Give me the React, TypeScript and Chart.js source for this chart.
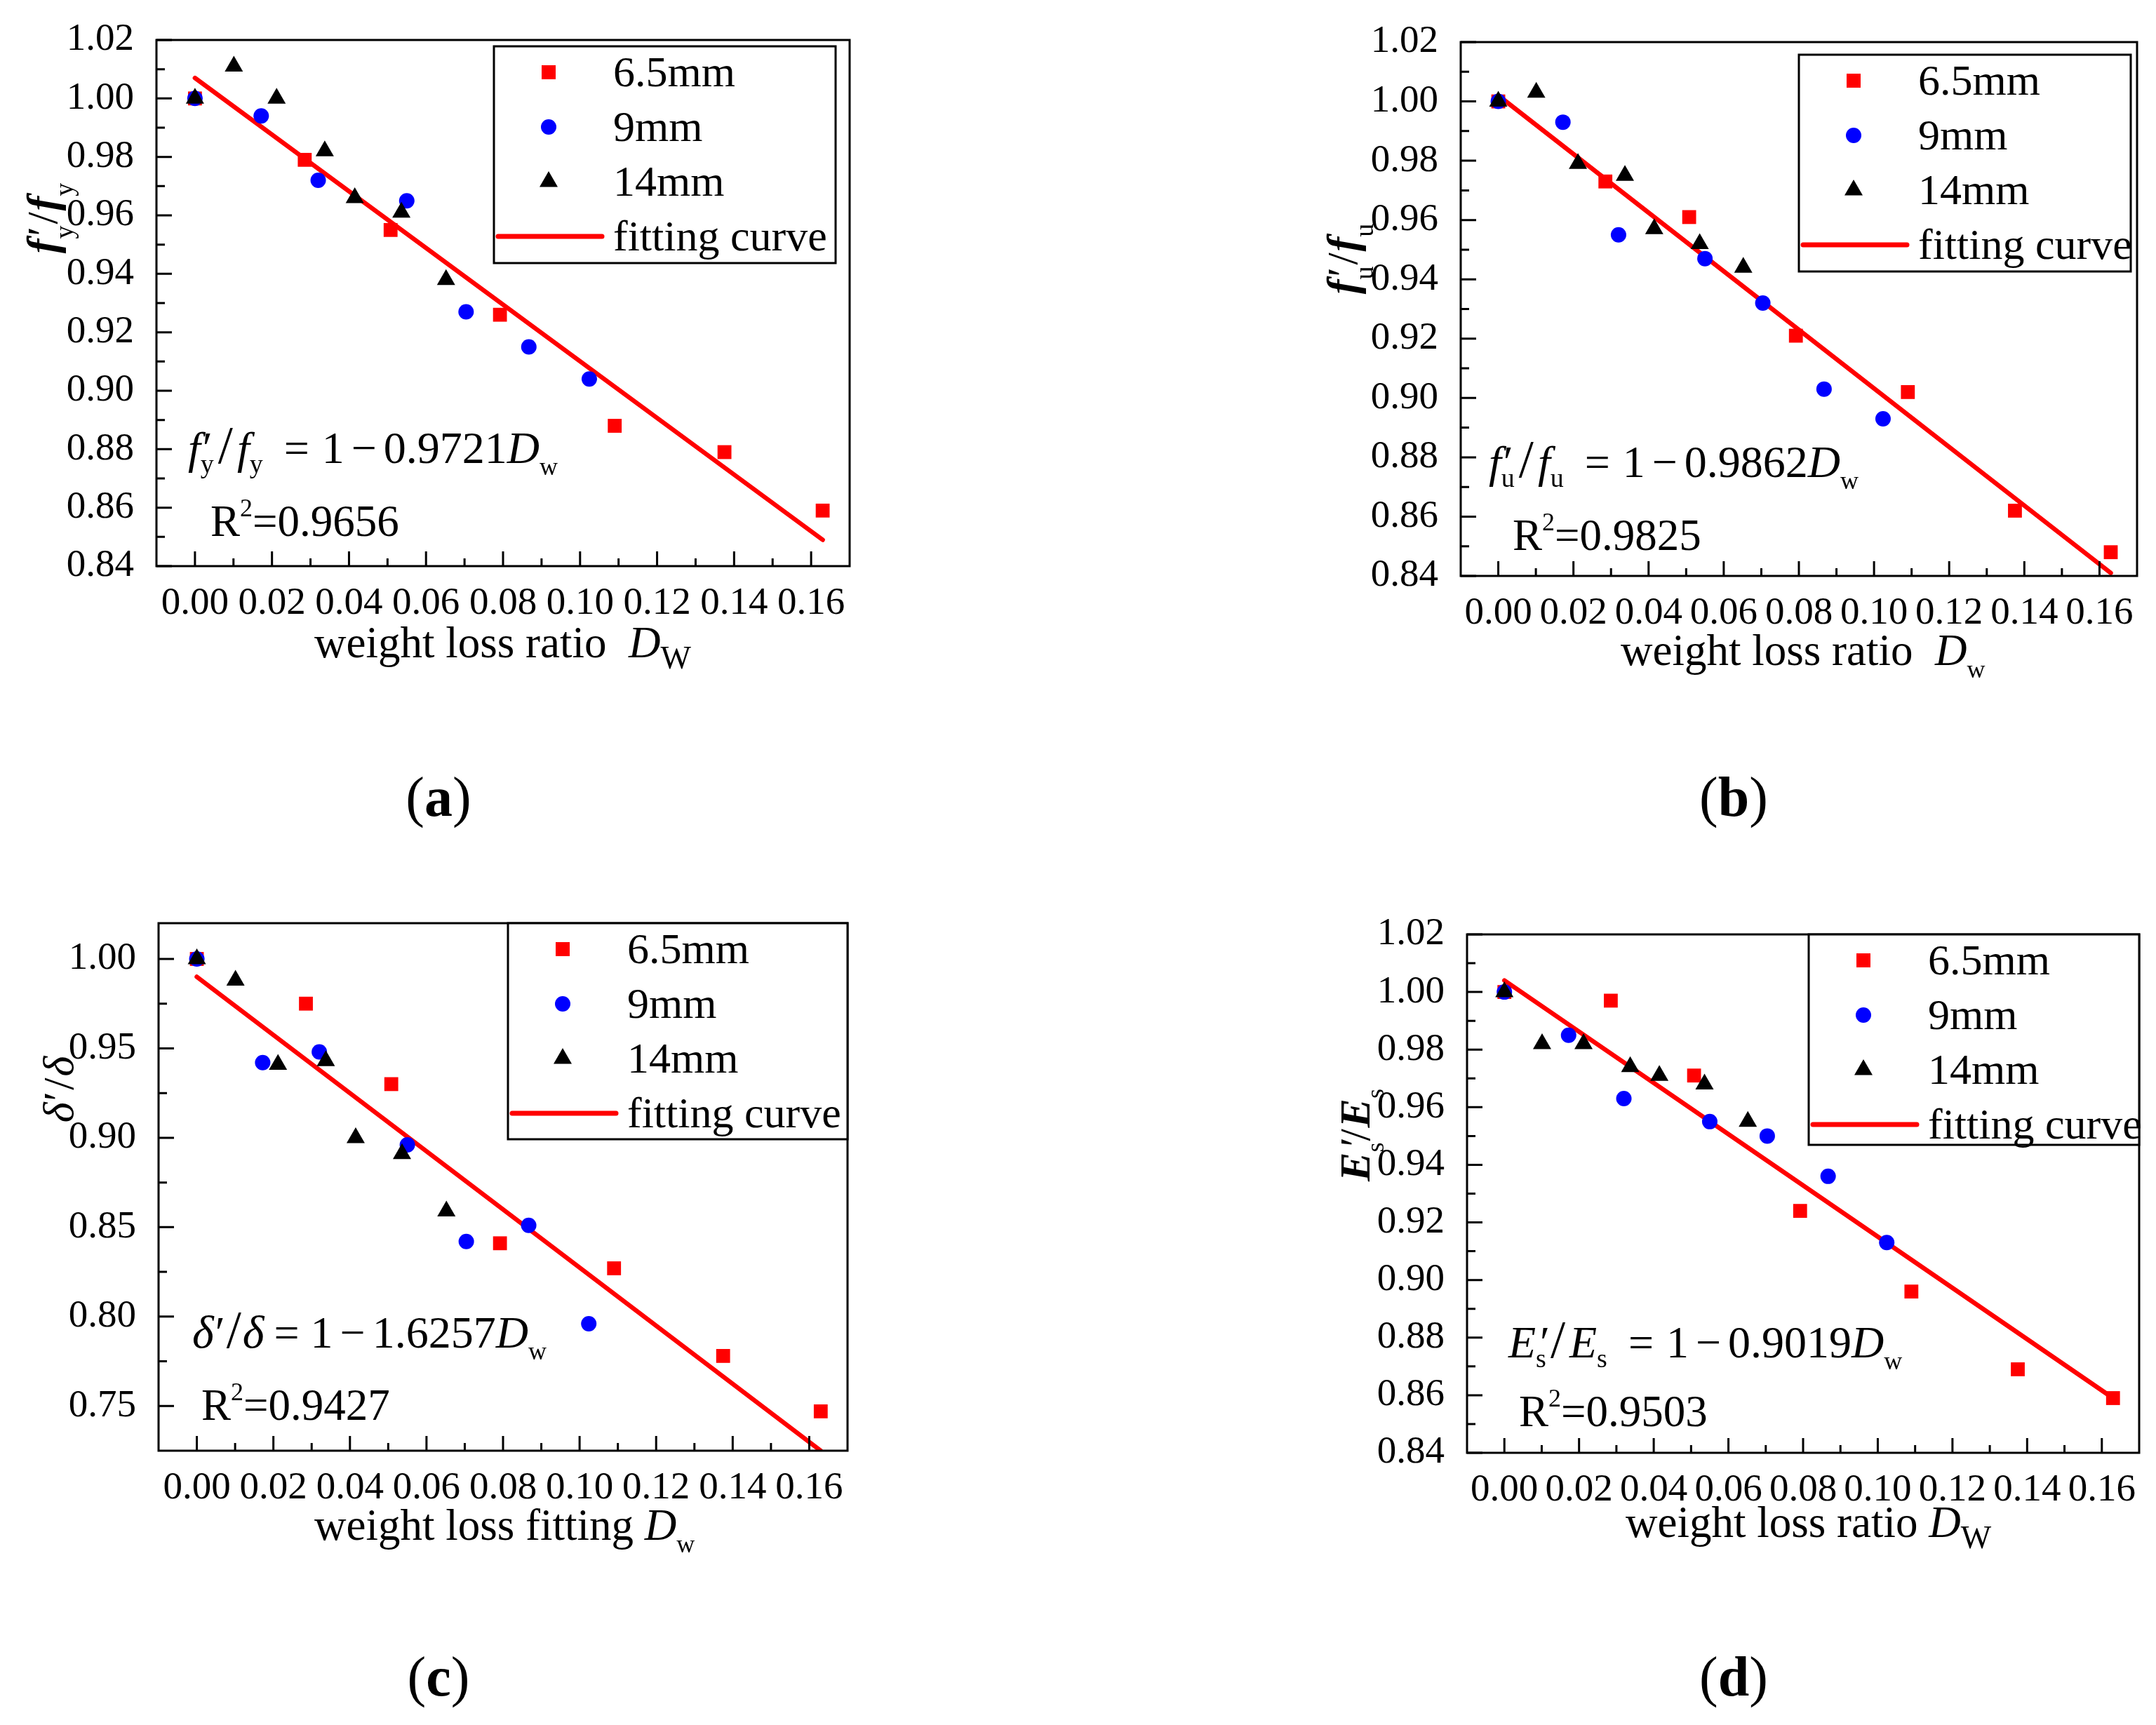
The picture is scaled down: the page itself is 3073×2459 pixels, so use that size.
import React, { useEffect, useRef } from "react";
import { Chart, registerables } from "chart.js";

Chart.register(...registerables);

const FONT = "'Liberation Serif', 'Times New Roman', serif";
const RED = "#ff0000";
const BLUE = "#0000ff";
const BLACK = "#000000";

// weight loss ratio D_w of the specimens, per bar diameter
const lossX65 = [0, 0.0285, 0.0508, 0.0792, 0.109, 0.1375, 0.163];
const lossX9 = [0, 0.0172, 0.032, 0.055, 0.0704, 0.0867, 0.1024];
const lossX14 = [0, 0.0101, 0.0212, 0.0337, 0.0415, 0.0536, 0.0652];
const fitX = [0, 0.163];

// (a) yield strength ratio f'y/fy
const yieldY65 = [1.0, 0.979, 0.955, 0.926, 0.888, 0.879, 0.859];
const yieldY9 = [1.0, 0.994, 0.972, 0.965, 0.927, 0.915, 0.904];
const yieldY14 = [1.0, 1.011, 1.0, 0.982, 0.966, 0.961, 0.938];
const yieldFit = [1.007, 0.849];

// (b) ultimate strength ratio f'u/fu
const ultY65 = [1.0, 0.973, 0.961, 0.921, 0.902, 0.862, 0.848];
const ultY9 = [1.0, 0.993, 0.955, 0.947, 0.932, 0.903, 0.893];
const ultY14 = [1.0, 1.003, 0.979, 0.975, 0.957, 0.952, 0.944];
const ultFit = [1.002, 0.841];

// (c) elongation ratio delta'/delta
const elongY65 = [1.0, 0.975, 0.93, 0.841, 0.827, 0.778, 0.747];
const elongY9 = [1.0, 0.942, 0.948, 0.896, 0.842, 0.851, 0.796];
const elongY14 = [1.0, 0.988, 0.941, 0.943, 0.9, 0.891, 0.859];
const elongFit = [0.99, 0.725];

// (d) elastic modulus ratio E's/Es
const modY65 = [1.0, 0.997, 0.971, 0.924, 0.896, 0.869, 0.859];
const modY9 = [1.0, 0.985, 0.963, 0.955, 0.95, 0.936, 0.913];
const modY14 = [1.0, 0.982, 0.982, 0.974, 0.971, 0.968, 0.955];
const modFit = [1.004, 0.859];

// tick labels
const xTicks = [0, 0.02, 0.04, 0.06, 0.08, 0.1, 0.12, 0.14, 0.16];
const xMinor = [0.01, 0.03, 0.05, 0.07, 0.09, 0.11, 0.13, 0.15];
const ratioTicks = [0.84, 0.86, 0.88, 0.9, 0.92, 0.94, 0.96, 0.98, 1.0, 1.02];
const ratioMinor = [0.85, 0.87, 0.89, 0.91, 0.93, 0.95, 0.97, 0.99, 1.01];
const elongTicks = [0.75, 0.8, 0.85, 0.9, 0.95, 1.0];
const elongMinor = [0.775, 0.825, 0.875, 0.925, 0.975];

const legendNames = ["6.5mm", "9mm", "14mm", "fitting curve"];

type Run = { t: string; size: number; style?: string; dx?: number; dy?: number; noAdv?: boolean };

const EQ = 64;
const rm = (t: string, size = EQ, dx = 0): Run => ({ t, size, dx });
const it = (t: string, size = EQ, dx = 0): Run => ({ t, size, style: "italic", dx });
const bi = (t: string, size = 62, dx = 0): Run => ({ t, size, style: "bold italic", dx });
const sub = (t: string, size = 38, dy = 14): Run => ({ t, size, dy });
const prime = (size = EQ, dx = 3): Run => ({ t: "\u2032", size, dx, noAdv: true });

// right-hand side of each fitted equation: " = 1 - k D_w"
const rhs = (k: string): Run[] => [rm("=", EQ, 30), rm("1", EQ, 18), rm("\u2212", EQ, 10), rm(k, EQ, 10), it("D"), sub("w", 36, 17)];

function setFont(ctx: CanvasRenderingContext2D, r: Run) {
  ctx.font = `${r.style ? r.style + " " : ""}${r.size}px ${FONT}`;
}

function runsWidth(ctx: CanvasRenderingContext2D, runs: Run[]) {
  let w = 0;
  for (const r of runs) {
    setFont(ctx, r);
    if (!r.noAdv) w += ctx.measureText(r.t).width + (r.dx || 0);
  }
  return w;
}

function drawRuns(ctx: CanvasRenderingContext2D, runs: Run[], x: number, y: number) {
  let cx = x;
  for (const r of runs) {
    setFont(ctx, r);
    ctx.fillText(r.t, cx + (r.dx || 0), y + (r.dy || 0));
    if (!r.noAdv) cx += ctx.measureText(r.t).width + (r.dx || 0);
  }
}

interface PanelDef {
  box: number[]; // canvas left, top, width, height (page px)
  area: number[]; // plot left, top, right, bottom (page px)
  yMin: number;
  yMax: number;
  yTicks: number[];
  yMinor: number[];
  y65: number[];
  y9: number[];
  y14: number[];
  fit: number[];
  legend: number[]; // left, top, right, bottom
  eq: Run[];
  eqAt: number[];
  r2: string;
  r2At: number[];
  xTitle: Run[];
  xTitleAt: number[];
  yTitle: Run[];
  yTitleAt: number[];
  label: string;
  labelAt: number[];
}

const panels: PanelDef[] = [
  {
    box: [0, 0, 1536, 1229],
    area: [223, 45, 1211, 807],
    yMin: 0.84,
    yMax: 1.02,
    yTicks: ratioTicks,
    yMinor: ratioMinor,
    y65: yieldY65,
    y9: yieldY9,
    y14: yieldY14,
    fit: yieldFit,
    legend: [704, 66, 1191, 375],
    eq: [it("f"), prime(), sub("y"), rm("/", 76, 6), it("f", EQ, 6), sub("y"), ...rhs("0.9721")],
    eqAt: [268, 660],
    r2: "0.9656",
    r2At: [300, 764],
    xTitle: [rm("weight loss ratio  ", 63), it("D", 63), sub("W", 46, 16)],
    xTitleAt: [448, 937],
    yTitle: [bi("f"), prime(62, 4), sub("y", 38, 23), rm("/", 62, 2), bi("f", 62, 2), sub("y", 38, 23)],
    yTitleAt: [81, 311],
    label: "a",
    labelAt: [625, 1163],
  },
  {
    box: [1536, 0, 1537, 1229],
    area: [2082, 60, 3046, 821],
    yMin: 0.84,
    yMax: 1.02,
    yTicks: ratioTicks,
    yMinor: ratioMinor,
    y65: ultY65,
    y9: ultY9,
    y14: ultY14,
    fit: ultFit,
    legend: [2564, 78, 3037, 387],
    eq: [it("f"), prime(), sub("u"), rm("/", 76, 6), it("f", EQ, 6), sub("u"), ...rhs("0.9862")],
    eqAt: [2122, 680],
    r2: "0.9825",
    r2At: [2156, 784],
    xTitle: [rm("weight loss ratio  ", 63), it("D", 63), sub("w", 36, 18)],
    xTitleAt: [2310, 948],
    yTitle: [bi("f"), prime(62, 4), sub("u", 38, 23), rm("/", 62, 2), bi("f", 62, 2), sub("u", 38, 23)],
    yTitleAt: [1934, 369],
    label: "b",
    labelAt: [2471, 1163],
  },
  {
    box: [0, 1229, 1536, 1230],
    area: [226, 1316, 1208, 2068],
    yMin: 0.725,
    yMax: 1.02,
    yTicks: elongTicks,
    yMinor: elongMinor,
    y65: elongY65,
    y9: elongY9,
    y14: elongY14,
    fit: elongFit,
    legend: [724, 1316, 1208, 1624],
    eq: [it("\u03b4", 66), rm("\u2032", EQ, 2), rm("/", 76, 2), it("\u03b4", 66, 2), rm("=", EQ, 14), rm("1", EQ, 16), rm("\u2212", EQ, 10), rm("1.6257", EQ, 10), it("D"), sub("w", 36, 17)],
    eqAt: [274, 1921],
    r2: "0.9427",
    r2At: [287, 2024],
    xTitle: [rm("weight loss fitting ", 63), it("D", 63), sub("w", 36, 18)],
    xTitleAt: [448, 2195],
    yTitle: [it("\u03b4", 62), rm("\u2032", 62, 2), rm("/", 62, 2), it("\u03b4", 62, 2)],
    yTitleAt: [104, 1553],
    label: "c",
    labelAt: [625, 2417],
  },
  {
    box: [1536, 1229, 1537, 1230],
    area: [2091, 1332, 3049, 2071],
    yMin: 0.84,
    yMax: 1.02,
    yTicks: ratioTicks,
    yMinor: ratioMinor,
    y65: modY65,
    y9: modY9,
    y14: modY14,
    fit: modFit,
    legend: [2578, 1332, 3049, 1632],
    eq: [it("E"), prime(EQ, 6), sub("s"), rm("/", 76, 6), it("E", EQ, 6), sub("s"), ...rhs("0.9019")],
    eqAt: [2150, 1935],
    r2: "0.9503",
    r2At: [2165, 2033],
    xTitle: [rm("weight loss ratio ", 63), it("D", 63), sub("W", 46, 16)],
    xTitleAt: [2317, 2191],
    yTitle: [bi("E"), prime(62, 8), sub("s", 36, 20), rm("/", 62, 2), bi("E", 62, 2), sub("s", 36, 20)],
    yTitleAt: [1952, 1618],
    label: "d",
    labelAt: [2471, 2417],
  },
];

function drawLegend(ctx: CanvasRenderingContext2D, l: number, t: number, r: number, b: number) {
  ctx.save();
  ctx.fillStyle = "#ffffff";
  ctx.fillRect(l, t, r - l, b - t);
  ctx.strokeStyle = BLACK;
  ctx.lineWidth = 3;
  ctx.strokeRect(l, t, r - l, b - t);
  const mx = l + 78;
  const rows = [t + 37, t + 115, t + 193, t + 271];
  ctx.fillStyle = RED;
  ctx.fillRect(mx - 10, rows[0] - 10, 20, 20);
  ctx.fillStyle = BLUE;
  ctx.beginPath();
  ctx.arc(mx, rows[1], 11, 0, Math.PI * 2);
  ctx.fill();
  ctx.fillStyle = BLACK;
  ctx.beginPath();
  ctx.moveTo(mx, rows[2] - 15);
  ctx.lineTo(mx + 13, rows[2] + 7.5);
  ctx.lineTo(mx - 13, rows[2] + 7.5);
  ctx.closePath();
  ctx.fill();
  ctx.strokeStyle = RED;
  ctx.lineWidth = 7;
  ctx.lineCap = "round";
  ctx.beginPath();
  ctx.moveTo(l + 6, rows[3]);
  ctx.lineTo(l + 154, rows[3]);
  ctx.stroke();
  ctx.fillStyle = BLACK;
  ctx.font = `62px ${FONT}`;
  ctx.textAlign = "left";
  ctx.textBaseline = "alphabetic";
  legendNames.forEach((name, i) => ctx.fillText(name, l + 170, rows[i] + 20));
  ctx.restore();
}

function Panel({ p }: { p: PanelDef }) {
  const canvasRef = useRef<HTMLCanvasElement>(null);

  useEffect(() => {
    const canvas = canvasRef.current;
    if (!canvas) return;
    const [ox, oy, W, H] = p.box;
    const L = p.area[0] - ox;
    const T = p.area[1] - oy;
    const R = p.area[2] - ox;
    const B = p.area[3] - oy;

    const decor = {
      id: "decor",
      afterDraw(chart: any) {
        const ctx: CanvasRenderingContext2D = chart.ctx;
        const { left, top, right, bottom } = chart.chartArea;
        const xs = chart.scales.x;
        const ys = chart.scales.y;
        ctx.save();
        ctx.strokeStyle = BLACK;
        ctx.lineWidth = 3;
        ctx.lineCap = "butt";
        ctx.beginPath();
        xTicks.forEach((v) => {
          const px = xs.getPixelForValue(v);
          ctx.moveTo(px, bottom);
          ctx.lineTo(px, bottom - 21);
        });
        xMinor.forEach((v) => {
          const px = xs.getPixelForValue(v);
          ctx.moveTo(px, bottom);
          ctx.lineTo(px, bottom - 11);
        });
        p.yTicks.forEach((v) => {
          const py = ys.getPixelForValue(v);
          ctx.moveTo(left, py);
          ctx.lineTo(left + 22, py);
        });
        p.yMinor.forEach((v) => {
          const py = ys.getPixelForValue(v);
          ctx.moveTo(left, py);
          ctx.lineTo(left + 12, py);
        });
        ctx.stroke();
        ctx.strokeRect(left, top, right - left, bottom - top);

        drawLegend(ctx, p.legend[0] - ox, p.legend[1] - oy, p.legend[2] - ox, p.legend[3] - oy);

        ctx.fillStyle = BLACK;
        ctx.textAlign = "left";
        ctx.textBaseline = "alphabetic";
        drawRuns(ctx, p.eq, p.eqAt[0] - ox, p.eqAt[1] - oy);
        const r2Runs: Run[] = [rm("R", 63), { t: "2", size: 36, dy: -28 }, rm("=" + p.r2, 63)];
        drawRuns(ctx, r2Runs, p.r2At[0] - ox, p.r2At[1] - oy);
        drawRuns(ctx, p.xTitle, p.xTitleAt[0] - ox, p.xTitleAt[1] - oy);

        ctx.save();
        ctx.translate(p.yTitleAt[0] - ox, p.yTitleAt[1] - oy);
        ctx.rotate(-Math.PI / 2);
        const tw = runsWidth(ctx, p.yTitle);
        drawRuns(ctx, p.yTitle, -tw / 2, 0);
        ctx.restore();

        const lab: Run[] = [rm("(", 80), { t: p.label, size: 80, style: "bold" }, rm(")", 80)];
        const lw = runsWidth(ctx, lab);
        drawRuns(ctx, lab, p.labelAt[0] - ox - lw / 2, p.labelAt[1] - oy);
        ctx.restore();
      },
    };

    const pts = (xs: number[], ys: number[]) => xs.map((x, i) => ({ x, y: ys[i] }));
    const tickFont = { family: FONT, size: 55 };

    const chart = new Chart(canvas, {
      type: "scatter",
      data: {
        datasets: [
          {
            label: legendNames[3],
            data: pts(fitX, p.fit),
            showLine: true,
            borderColor: RED,
            borderWidth: 6.5,
            borderCapStyle: "round",
            pointRadius: 0,
            order: 4,
          },
          {
            label: legendNames[0],
            data: pts(lossX65, p.y65),
            pointStyle: "rect",
            pointRadius: 14,
            backgroundColor: RED,
            borderWidth: 0,
            order: 3,
          },
          {
            label: legendNames[1],
            data: pts(lossX9, p.y9),
            pointStyle: "circle",
            pointRadius: 11,
            backgroundColor: BLUE,
            borderWidth: 0,
            order: 2,
          },
          {
            label: legendNames[2],
            data: pts(lossX14, p.y14),
            pointStyle: "triangle",
            pointRadius: 15,
            backgroundColor: BLACK,
            borderWidth: 0,
            order: 1,
          },
        ],
      } as any,
      options: {
        animation: false,
        responsive: false,
        devicePixelRatio: 1,
        events: [],
        layout: { padding: { top: T, right: W - R, left: 0, bottom: 0 } },
        plugins: { legend: { display: false }, tooltip: { enabled: false } },
        scales: {
          x: {
            type: "linear",
            min: -0.01,
            max: 0.17,
            grid: { display: false },
            border: { display: false },
            ticks: {
              font: tickFont,
              color: BLACK,
              padding: 13,
              autoSkip: false,
              maxRotation: 0,
              minRotation: 0,
              callback: (v: any) => Number(v).toFixed(2),
            },
            afterBuildTicks: (s: any) => {
              s.ticks = xTicks.map((value) => ({ value }));
            },
            afterFit: (s: any) => {
              s.height = H - B;
            },
          },
          y: {
            type: "linear",
            min: p.yMin,
            max: p.yMax,
            grid: { display: false },
            border: { display: false },
            ticks: {
              font: tickFont,
              color: BLACK,
              padding: 24,
              autoSkip: false,
              callback: (v: any) => Number(v).toFixed(2),
            },
            afterBuildTicks: (s: any) => {
              s.ticks = p.yTicks.map((value) => ({ value }));
            },
            afterFit: (s: any) => {
              s.width = L;
            },
          },
        },
      } as any,
      plugins: [decor],
    });

    return () => {
      chart.destroy();
    };
  }, [p]);

  return (
    <canvas
      ref={canvasRef}
      width={p.box[2]}
      height={p.box[3]}
      style={{ position: "absolute", left: p.box[0], top: p.box[1], width: p.box[2], height: p.box[3] }}
    />
  );
}

export default function App() {
  return (
    <div style={{ position: "absolute", left: 0, top: 0, width: 3073, height: 2459, background: "#ffffff" }}>
      {panels.map((p) => (
        <Panel key={p.label} p={p} />
      ))}
    </div>
  );
}
